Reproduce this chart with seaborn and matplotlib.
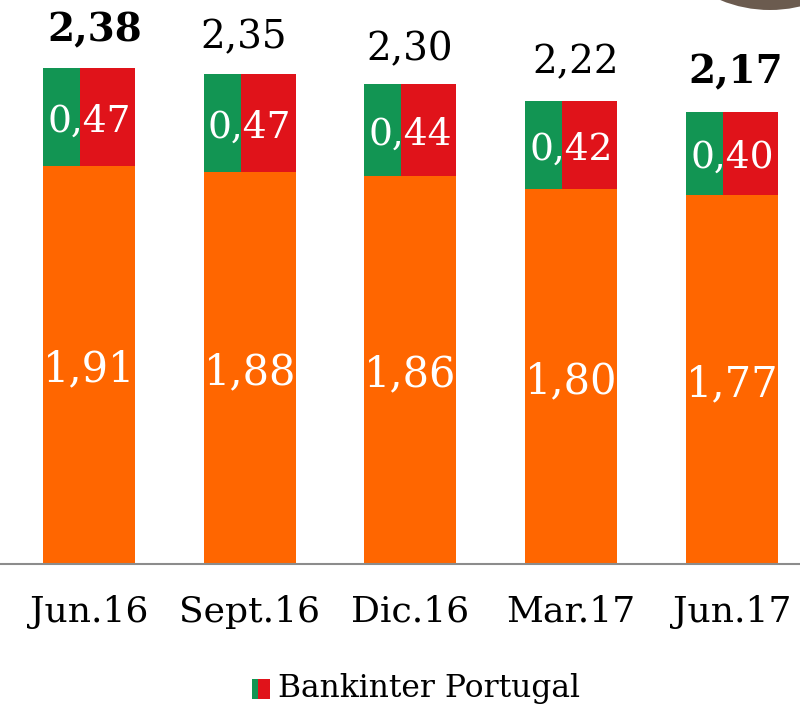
import matplotlib
matplotlib.use("Agg")
import matplotlib.pyplot as plt
from matplotlib.patches import Patch, Circle, Rectangle
from matplotlib.legend_handler import HandlerBase
import pandas as pd
import seaborn as sns

categories = ["Jun.16", "Sept.16", "Dic.16", "Mar.17", "Jun.17"]
base_values = [1.91, 1.88, 1.86, 1.80, 1.77]
portugal_values = [0.47, 0.47, 0.44, 0.42, 0.40]
total_values = [2.38, 2.35, 2.30, 2.22, 2.17]
bold_totals = [True, False, False, False, True]
legend_label = "Bankinter Portugal"

# hand placement of the total labels, in pixels
total_dx = [5.5, -6.5, -1, 5, 4]
total_dy = [-3, -4, -6, -2, -2]

ORANGE = "#FF6600"
GREEN = "#129553"
RED = "#E0131A"
FONT = "DejaVu Serif"

sns.set_theme(style="white")
plt.rcParams["font.family"] = [FONT]

W, H = 800, 706
fig = plt.figure(figsize=(W / 100, H / 100), dpi=100, facecolor="white")
base_y = 564
ax = fig.add_axes([0, (H - base_y) / H, 1, base_y / H])

df = pd.DataFrame({"cat": categories, "val": base_values})
bar_w = 92 / 160.7
sns.barplot(data=df, x="cat", y="val", color=ORANGE, saturation=1, width=bar_w,
            ax=ax, order=categories, linewidth=0)

green_w = 37 / 160.7
for i, (b, p, t, bold) in enumerate(zip(base_values, portugal_values, total_values, bold_totals)):
    left = i - bar_w / 2
    ax.bar(left, p, width=green_w, bottom=b, color=GREEN, align="edge", linewidth=0)
    ax.bar(left + green_w, p, width=bar_w - green_w, bottom=b, color=RED, align="edge", linewidth=0)
    ax.text(i, b / 2 - 0.022, f"{b:.2f}".replace(".", ","), color="white", ha="center",
            va="center", fontsize=30)
    ax.text(i, b + p / 2 - 0.022, f"{p:.2f}".replace(".", ","), color="white", ha="center",
            va="center", fontsize=27)
    ax.annotate(f"{t:.2f}".replace(".", ","), xy=(i, t + 0.105),
                xytext=(total_dx[i], total_dy[i]), textcoords="offset pixels",
                color="black", ha="center", va="bottom", fontsize=28,
                fontweight="bold" if bold else "normal", annotation_clip=False)

ax.set_xlim((0 - 89) / 160.7, (800 - 89) / 160.7)
ax.set_ylim(0, base_y / 208.5)
ax.set_xlabel("")
ax.set_ylabel("")
ax.set_yticks([])
ax.tick_params(axis="x", length=0, pad=22, labelsize=26, labelcolor="black")
sns.despine(ax=ax, left=True, top=True, right=True)
ax.spines["bottom"].set_color("#8C8C8C")
ax.spines["bottom"].set_linewidth(1.5)

# decorative disc cut by the top-right corner
fig.add_artist(Circle((770, H + 120), 130, transform=None,
                      facecolor="#6B5B4F", edgecolor="none"))


class TwoTone(HandlerBase):
    def create_artists(self, legend, orig, xd, yd, width, height, fontsize, trans):
        left = Rectangle((xd, yd), width / 3, height, facecolor=GREEN, linewidth=0, transform=trans)
        right = Rectangle((xd + width / 3, yd), width * 2 / 3, height, facecolor=RED, linewidth=0,
                          transform=trans)
        return [left, right]


fig.legend(handles=[Patch()], labels=[legend_label], handler_map={Patch: TwoTone()},
           loc="center", bbox_to_anchor=(416 / W, 1 - 689 / H), frameon=False,
           fontsize=22.6, handlelength=0.57, handleheight=0.6, handletextpad=0.25,
           borderpad=0, labelcolor="black")

fig.savefig("out.png", dpi=100, facecolor="white")
